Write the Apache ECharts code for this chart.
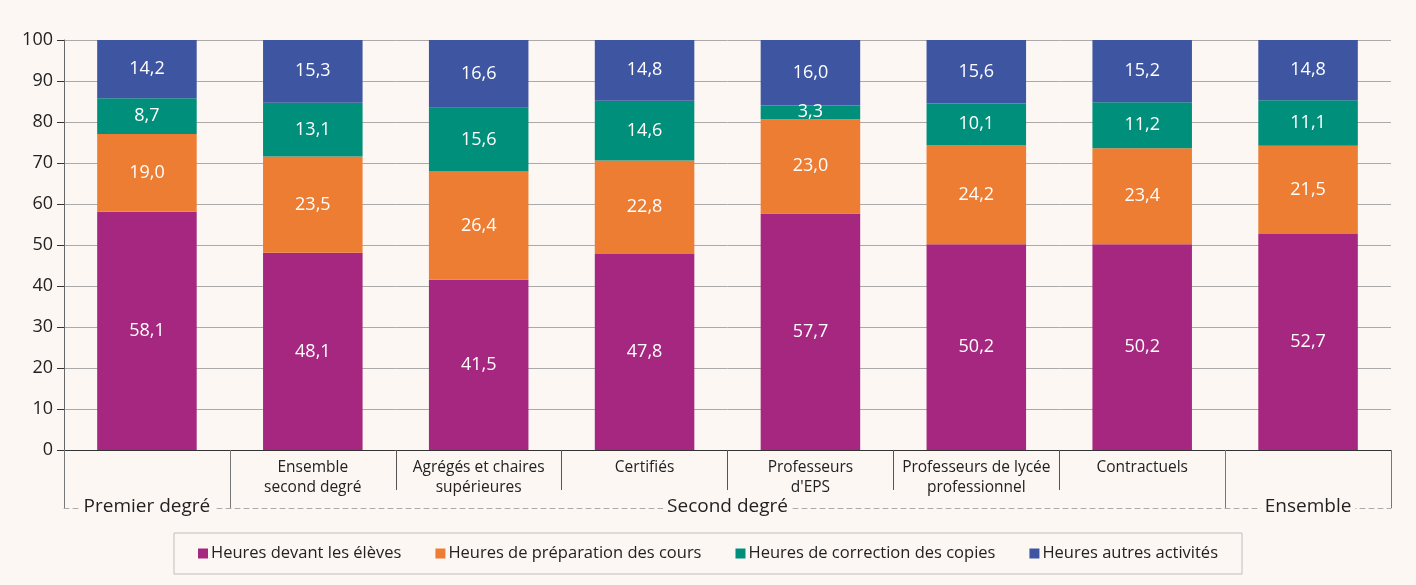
<!DOCTYPE html>
<html>
<head>
<meta charset="utf-8">
<script src="https://cdn.jsdelivr.net/npm/echarts@6/dist/echarts.min.js"></script>
<style>
html,body{margin:0;padding:0;background:#fdf7f4;}
#c{width:1416px;height:585px;}
</style>
</head>
<body>
<div id="c"></div>
<script>
const categories = ['Premier degré','Ensemble second degré','Agrégés et chaires supérieures','Certifiés','Professeurs d\'EPS','Professeurs de lycée professionnel','Contractuels','Ensemble'];
const subLabels = ['', 'Ensemble\nsecond degré', 'Agrégés et chaires\nsupérieures', 'Certifiés', 'Professeurs\nd\'EPS', 'Professeurs de lycée\nprofessionnel', 'Contractuels', ''];
const groupLabels = ['Premier degré', 'Second degré', 'Ensemble'];
const groupSpans = [1, 6, 1];
const seriesNames = ['Heures devant les élèves', 'Heures de préparation des cours', 'Heures de correction des copies', 'Heures autres activités'];
const devant = [58.1, 48.1, 41.5, 47.8, 57.7, 50.2, 50.2, 52.7];
const preparation = [19.0, 23.5, 26.4, 22.8, 23.0, 24.2, 23.4, 21.5];
const correction = [8.7, 13.1, 15.6, 14.6, 3.3, 10.1, 11.2, 11.1];
const autres = [14.2, 15.3, 16.6, 14.8, 16.0, 15.6, 15.2, 14.8];
const yTicks = [0, 10, 20, 30, 40, 50, 60, 70, 80, 90, 100];
const colors = ['#a5277f', '#ec7d32', '#008f7b', '#3e56a2'];

const FONT = 'Open Sans';
const BG = '#fdf7f4';

// group boundaries and centers (in category units)
const groupBounds = [0];
const groupCenters = [];
let acc = 0;
groupSpans.forEach(s => { groupCenters.push(acc + s / 2); acc += s; groupBounds.push(acc); });

const chart = echarts.init(document.getElementById('c'), null, {renderer: 'canvas'});
const mk = (name, data, i) => ({
  name, type: 'bar', stack: 'total', data, barWidth: '60%',
  itemStyle: {color: colors[i]},
  label: {
    show: true, position: 'inside', color: '#ffffff', fontFamily: FONT, fontSize: 18,
    formatter: p => p.value.toFixed(1).replace('.', ',')
  },
  emphasis: {disabled: true}
});
chart.setOption({
  backgroundColor: BG,
  animation: false,
  textStyle: {fontFamily: FONT},
  grid: {left: 64, right: 25, top: 40, bottom: 135, containLabel: false},
  legend: {
    data: seriesNames,
    left: 'center', top: 533,
    padding: [12, 24],
    itemGap: 34,
    itemWidth: 10, itemHeight: 10,
    icon: 'rect',
    borderColor: '#bdbdbd', borderWidth: 1,
    backgroundColor: BG,
    textStyle: {fontFamily: FONT, fontSize: 16.5, color: '#222', padding: [0, 0, 0, -2]}
  },
  xAxis: [
    {
      type: 'category', data: categories, position: 'bottom',
      axisLine: {lineStyle: {color: '#333', width: 1}},
      axisTick: {show: true, interval: 0, length: 40, lineStyle: {color: '#555'}},
      axisLabel: {
        interval: 0, margin: 8, fontSize: 15.5, lineHeight: 20, color: '#222', fontFamily: FONT,
        formatter: (v, i) => subLabels[i]
      },
      splitLine: {show: false}
    },
    {
      type: 'value', min: 0, max: categories.length, position: 'bottom', offset: 58,
      axisLine: {show: true, lineStyle: {color: '#aaa', type: [5, 4], width: 1}},
      axisTick: {show: true, inside: true, length: 58, customValues: groupBounds, lineStyle: {color: '#777'}},
      axisLabel: {
        show: true, customValues: groupCenters, margin: -11, fontSize: 19, color: '#222', fontFamily: FONT,
        backgroundColor: BG, padding: [0, 4],
        formatter: v => { const k = groupCenters.indexOf(v); return k >= 0 ? groupLabels[k] : ''; }
      },
      splitLine: {show: false}
    }
  ],
  yAxis: {
    type: 'value', min: 0, max: 100, interval: 10,
    axisLine: {show: true, lineStyle: {color: '#666'}},
    axisTick: {show: true, length: 7, lineStyle: {color: '#333'}},
    axisLabel: {fontSize: 18, color: '#222', margin: 11, fontFamily: FONT,
      formatter: v => yTicks.includes(v) ? String(v) : ''},
    splitLine: {show: true, lineStyle: {color: '#aaa', width: 1}}
  },
  series: [
    mk(seriesNames[0], devant, 0),
    mk(seriesNames[1], preparation, 1),
    mk(seriesNames[2], correction, 2),
    mk(seriesNames[3], autres, 3)
  ]
});
</script>
</body>
</html>
